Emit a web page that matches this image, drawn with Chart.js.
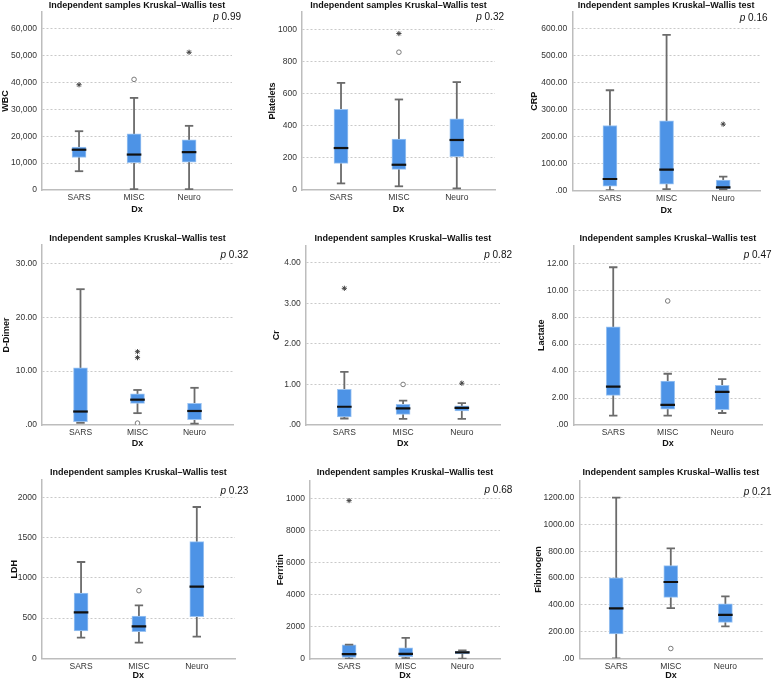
<!DOCTYPE html>
<html><head><meta charset="utf-8">
<script src="https://cdn.jsdelivr.net/npm/chart.js@4.4.1/dist/chart.umd.min.js"></script>
<style>
html,body{margin:0;padding:0;background:#fff;}
#wrap{position:relative;width:772px;height:681px;overflow:hidden;background:#fff;}
canvas{position:absolute;}
</style></head><body><div id="wrap"></div>
<script>
const categories = ['SARS', 'MISC', 'Neuro'];
const testTitle = 'Independent samples Kruskal\u2013Wallis test';
const xAxisTitle = 'Dx';

// Each stats row: [min, Q1, median, Q3, max] for SARS, MISC, Neuro
const wbcStats = [[7000, 12100, 15000, 16000, 21900], [300, 10200, 13200, 20900, 34300], [300, 10400, 14100, 18700, 23900]];
const wbcOutliers = [['SARS', 39200, 'extreme'], ['MISC', 41200, 'mild'], ['Neuro', 51300, 'extreme']];
const wbcTicks = [0, 10000, 20000, 30000, 40000, 50000, 60000];
const wbcTickLabels = ['0', '10,000', '20,000', '30,000', '40,000', '50,000', '60,000'];

const pltStats = [[41, 166, 261, 501, 666], [23, 128, 157, 317, 563], [10, 207, 311, 443, 671]];
const pltOutliers = [['MISC', 973, 'extreme'], ['MISC', 857, 'mild']];
const pltTicks = [0, 200, 400, 600, 800, 1000];
const pltTickLabels = ['0', '200', '400', '600', '800', '1000'];

const crpStats = [[1, 15, 42, 241, 372], [4, 23, 77, 258, 578], [3, 5, 11, 38, 51]];
const crpOutliers = [['Neuro', 246, 'extreme']];
const crpTicks = [0, 100, 200, 300, 400, 500, 600];
const crpTickLabels = ['.00', '100.00', '200.00', '300.00', '400.00', '500.00', '600.00'];

const ddStats = [[0.4, 0.6, 2.5, 10.6, 25.2], [2.2, 4.0, 4.7, 5.8, 6.5], [0.25, 1.0, 2.6, 4.0, 6.9]];
const ddOutliers = [['MISC', 13.6, 'extreme'], ['MISC', 12.5, 'extreme'], ['MISC', 0.35, 'mild']];
const ddTicks = [0, 10, 20, 30];
const ddTickLabels = ['.00', '10.00', '20.00', '30.00'];

const crStats = [[0.16, 0.2, 0.45, 0.88, 1.31], [0.15, 0.26, 0.41, 0.51, 0.6], [0.15, 0.35, 0.42, 0.47, 0.54]];
const crOutliers = [['SARS', 3.37, 'extreme'], ['MISC', 1.0, 'mild'], ['Neuro', 1.03, 'extreme']];
const crTicks = [0, 1, 2, 3, 4];
const crTickLabels = ['.00', '1.00', '2.00', '3.00', '4.00'];

const lacStats = [[0.7, 2.2, 2.84, 7.28, 11.7], [0.7, 1.17, 1.5, 3.25, 3.8], [0.89, 1.14, 2.45, 2.94, 3.4]];
const lacOutliers = [['MISC', 9.2, 'mild']];
const lacTicks = [0, 2, 4, 6, 8, 10, 12];
const lacTickLabels = ['.00', '2.00', '4.00', '6.00', '8.00', '10.00', '12.00'];

const ldhStats = [[257, 340, 573, 813, 1199], [194, 331, 398, 527, 660], [269, 518, 892, 1452, 1884]];
const ldhOutliers = [['MISC', 842, 'mild']];
const ldhTicks = [0, 500, 1000, 1500, 2000];
const ldhTickLabels = ['0', '500', '1000', '1500', '2000'];

const ferStats = [[20, 100, 300, 880, 900], [60, 145, 320, 700, 1320], [20, 310, 410, 470, 540]];
const ferOutliers = [['SARS', 9860, 'extreme']];
const ferTicks = [0, 2000, 4000, 6000, 8000, 10000];
const ferTickLabels = ['0', '2000', '4000', '6000', '8000', '1000'];

const fibStats = [[0, 183, 373, 602, 1200], [375, 455, 570, 692, 822], [238, 268, 325, 407, 462]];
const fibOutliers = [['MISC', 73, 'mild']];
const fibTicks = [0, 200, 400, 600, 800, 1000, 1200];
const fibTickLabels = ['.00', '200.00', '400.00', '600.00', '800.00', '1000.00', '1200.00'];

const panelLabels = ['WBC', 'Platelets', 'CRP', 'D-Dimer', 'Cr', 'Lactate', 'LDH', 'Ferritin', 'Fibrinogen'];
const pValues = ['0.99', '0.32', '0.16', '0.32', '0.82', '0.47', '0.23', '0.68', '0.21'];

const panels = [
  {stats: wbcStats, outliers: wbcOutliers, ticks: wbcTicks, tickLabels: wbcTickLabels, yMax: 66300},
  {stats: pltStats, outliers: pltOutliers, ticks: pltTicks, tickLabels: pltTickLabels, yMax: 1107},
  {stats: crpStats, outliers: crpOutliers, ticks: crpTicks, tickLabels: crpTickLabels, yMax: 663},
  {stats: ddStats, outliers: ddOutliers, ticks: ddTicks, tickLabels: ddTickLabels, yMax: 33.4},
  {stats: crStats, outliers: crOutliers, ticks: crTicks, tickLabels: crTickLabels, yMax: 4.42},
  {stats: lacStats, outliers: lacOutliers, ticks: lacTicks, tickLabels: lacTickLabels, yMax: 13.3},
  {stats: ldhStats, outliers: ldhOutliers, ticks: ldhTicks, tickLabels: ldhTickLabels, yMax: 2220},
  {stats: ferStats, outliers: ferOutliers, ticks: ferTicks, tickLabels: ferTickLabels, yMax: 11100},
  {stats: fibStats, outliers: fibOutliers, ticks: fibTicks, tickLabels: fibTickLabels, yMax: 1327}
];

// Layout (pixel geometry of each panel)
const layouts = [
  {cx:0,   cy:0,   cw:262, ch:225, L:42,    T:12,    R:232, B:190,   xMin:0.327, xMax:3.78,  yTitleX:5,     dxY:210,   titleY:5.5,   pRight:241,   pY:17},
  {cx:255, cy:0,   cw:262, ch:225, L:302,   T:12,    R:495, B:190,   xMin:0.326, xMax:3.66,  yTitleX:272.3, dxY:210,   titleY:5.5,   pRight:504,   pY:17},
  {cx:510, cy:0,   cw:262, ch:225, L:572.3, T:12,    R:760, B:190.3, xMin:0.335, xMax:3.65,  yTitleX:535,   dxY:210.5, titleY:5.5,   pRight:767.5, pY:18},
  {cx:0,   cy:225, cw:262, ch:225, L:42,    T:245,   R:233, B:425,   xMin:0.325, xMax:3.675, yTitleX:6.7,   dxY:444,   titleY:238.3, pRight:248.3, pY:255},
  {cx:255, cy:225, cw:262, ch:225, L:305.7, T:245.7, R:500, B:425,   xMin:0.342, xMax:3.65,  yTitleX:276.7, dxY:444,   titleY:238.3, pRight:512,   pY:255},
  {cx:510, cy:225, cw:262, ch:225, L:573.3, T:245.7, R:766, B:425,   xMin:0.267, xMax:3.74,  yTitleX:541.7, dxY:444,   titleY:238.3, pRight:771.5, pY:255.7},
  {cx:0,   cy:450, cw:262, ch:231, L:41.7,  T:480,   R:235, B:658.3, xMin:0.32,  xMax:3.66,  yTitleX:15,    dxY:677,   titleY:472.7, pRight:248.3, pY:491.7},
  {cx:255, cy:450, cw:262, ch:231, L:310,   T:480.7, R:500, B:659,   xMin:0.31,  xMax:3.665, yTitleX:281,   dxY:677,   titleY:472.7, pRight:512.3, pY:490.7},
  {cx:510, cy:450, cw:262, ch:231, L:579.3, T:480.7, R:765, B:658.3, xMin:0.324, xMax:3.68,  yTitleX:538.3, dxY:677,   titleY:472.7, pRight:771.5, pY:492.3}
];

const FONT = '"Liberation Sans", Arial, Helvetica, sans-serif';
const BOX_FILL = '#4d93e6';
const BOX_EDGE = '#9cc4f2';
const WHISK = '#6b6b6b';
const TITLE_LH = 9 * 1.2;

function buildDatasets(stats, outliers) {
  const ds = [];
  stats.forEach((s, i) => {
    ds.push({type: 'line', data: [{x: i + 1, y: s[0]}, {x: i + 1, y: s[4]}],
      borderColor: WHISK, borderWidth: 1.8, pointRadius: 0, order: 5});
  });
  ds.push({type: 'bar', data: stats.map((s, i) => ({x: i + 1, y: [s[1], s[3]]})),
    backgroundColor: BOX_FILL, borderColor: BOX_EDGE, borderWidth: 1, borderSkipped: false,
    barThickness: 14, order: 4});
  ds.push({type: 'scatter', data: stats.flatMap((s, i) => [{x: i + 1, y: s[0]}, {x: i + 1, y: s[4]}]),
    pointStyle: 'line', pointRadius: 4.2, pointBorderWidth: 1.8, pointBorderColor: WHISK, order: 3});
  ds.push({type: 'scatter', data: stats.map((s, i) => ({x: i + 1, y: s[2]})),
    pointStyle: 'line', pointRadius: 7.3, pointBorderWidth: 2.2, pointBorderColor: '#111', order: 2});
  ds.push({type: 'scatter',
    data: outliers.filter(o => o[2] === 'mild').map(o => ({x: categories.indexOf(o[0]) + 1, y: o[1]})),
    pointStyle: 'circle', pointRadius: 2.3, pointBackgroundColor: '#fff', pointBorderColor: '#7a7a7a', pointBorderWidth: 1, order: 1});
  ds.push({type: 'scatter',
    data: outliers.filter(o => o[2] === 'extreme').map(o => ({x: categories.indexOf(o[0]) + 1, y: o[1]})),
    pointStyle: 'star', pointRadius: 2.6, pointBorderColor: '#444', pointBorderWidth: 1, order: 0});
  return ds;
}

const wrap = document.getElementById('wrap');

panels.forEach((p, idx) => {
  const lay = layouts[idx];
  const canvas = document.createElement('canvas');
  canvas.width = lay.cw; canvas.height = lay.ch;
  canvas.style.left = lay.cx + 'px'; canvas.style.top = lay.cy + 'px';
  canvas.style.width = lay.cw + 'px'; canvas.style.height = lay.ch + 'px';
  wrap.appendChild(canvas);

  const textPlugin = {
    id: 'panelText' + idx,
    afterDraw(chart) {
      const ctx = chart.ctx;
      const area = chart.chartArea;
      ctx.save();
      ctx.fillStyle = '#111';
      ctx.font = 'bold 9px ' + FONT;
      ctx.textAlign = 'center';
      ctx.textBaseline = 'middle';
      ctx.fillText(testTitle, (area.left + area.right) / 2, lay.titleY - lay.cy);
      // p value
      ctx.textAlign = 'left';
      ctx.font = 'italic 10px ' + FONT;
      const wP = ctx.measureText('p').width;
      ctx.font = '10px ' + FONT;
      const rest = ' ' + pValues[idx];
      const wR = ctx.measureText(rest).width;
      const x0 = lay.pRight - lay.cx - wP - wR;
      const y0 = lay.pY - lay.cy;
      ctx.font = 'italic 10px ' + FONT;
      ctx.fillText('p', x0, y0);
      ctx.font = '10px ' + FONT;
      ctx.fillText(rest, x0 + wP, y0);
      ctx.restore();
    }
  };

  new Chart(canvas, {
    type: 'bar',
    data: {datasets: buildDatasets(p.stats, p.outliers)},
    options: {
      responsive: false,
      animation: false,
      devicePixelRatio: 1,
      layout: {padding: {left: 0, top: lay.T - lay.cy, right: lay.cx + lay.cw - lay.R, bottom: 0}},
      plugins: {legend: {display: false}, tooltip: {enabled: false}, title: {display: false}},
      scales: {
        x: {
          type: 'linear', min: lay.xMin, max: lay.xMax, offset: false,
          afterBuildTicks: (scale) => { scale.ticks = categories.map((c, i) => ({value: i + 1})); },
          afterFit: (scale) => { scale.height = lay.cy + lay.ch - lay.B; },
          ticks: {autoSkip: false, padding: 3, color: '#333', font: {family: FONT, size: 8.5},
            callback: (v, i) => categories[i]},
          grid: {display: false, drawTicks: false, offset: false},
          border: {display: true, color: '#bdbdbd', width: 1.5},
          title: {display: true, text: xAxisTitle, color: '#111', font: {family: FONT, size: 9, weight: 'bold'},
            padding: {top: 0, bottom: Math.max(0, lay.cy + lay.ch - lay.dxY - TITLE_LH / 2)}}
        },
        y: {
          type: 'linear', min: 0, max: p.yMax,
          afterBuildTicks: (scale) => { scale.ticks = p.ticks.map(v => ({value: v})); },
          afterFit: (scale) => { scale.width = lay.L - lay.cx; },
          ticks: {autoSkip: false, padding: 5, color: '#333', font: {family: FONT, size: 8.5},
            callback: (v, i) => p.tickLabels[i]},
          grid: {drawTicks: false, lineWidth: 1,
            color: (c) => (c.tick && c.tick.value === 0) ? 'rgba(0,0,0,0)' : '#c9c9c9'},
          border: {display: true, color: '#bdbdbd', width: 1.5, dash: [2, 2]},
          title: {display: true, text: panelLabels[idx], color: '#111', font: {family: FONT, size: 9, weight: 'bold'},
            padding: {top: Math.max(0, lay.yTitleX - lay.cx - TITLE_LH / 2), bottom: 0}}
        }
      }
    },
    plugins: [textPlugin]
  });
});
</script>
</body></html>
